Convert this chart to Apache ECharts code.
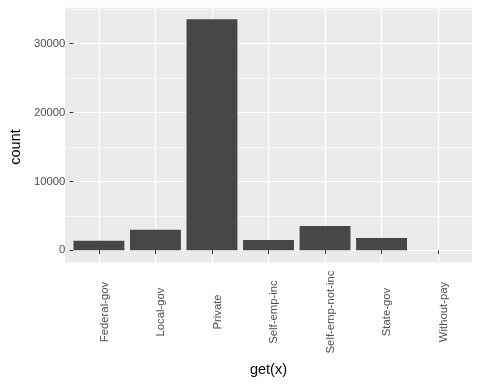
<!DOCTYPE html>
<html><head><meta charset="utf-8">
<script src="https://cdn.jsdelivr.net/npm/echarts@6/dist/echarts.min.js"></script>
<style>html,body{margin:0;padding:0;background:#fff}#c{width:480px;height:384px}</style>
</head><body><div id="c"></div>
<script>
var categories = ['Federal-gov','Local-gov','Private','Self-emp-inc','Self-emp-not-inc','State-gov','Without-pay'];
var counts = [1400, 3000, 33550, 1500, 3530, 1790, 21];
var yMajorTicks = [0, 10000, 20000, 30000];

var W = 480, H = 384;
var panelL = 65, panelR = 472, panelT = 7.3, panelB = 262.5;
var yMin = -1770, yMax = 35270;
var pxPer = (panelB - panelT) / (yMax - yMin);
var y0 = panelB + yMin * pxPer;          // pixel of value 0
var yTopMajor = y0 - 30000 * pxPer;     // pixel of value 30000
var unit = (panelR - panelL) / 7.2;
var font = 'Liberation Sans, Arial, Helvetica, sans-serif';
var tickFs = 11.3, titleFs = 14.5;

var chart = echarts.init(document.getElementById('c'), null, {renderer:'canvas'});
chart.setOption({
  animation: false,
  backgroundColor: '#ffffff',
  graphic: [{
    type: 'rect', z: -10, silent: true,
    shape: {x: panelL, y: panelT, width: panelR - panelL, height: panelB - panelT},
    style: {fill: '#EBEBEB'}
  }],
  grid: [
    {left: panelL + 0.1 * unit, right: W - panelR + 0.1 * unit, top: panelT, bottom: H - panelB},
    {left: panelL, right: W - panelR, top: panelT, bottom: H - y0},
    {left: panelL, right: W - panelR, top: yTopMajor, bottom: H - y0}
  ],
  xAxis: [
    {type: 'category', gridIndex: 0, data: categories,
     name: 'get(x)', nameLocation: 'middle', nameGap: 100,
     nameTextStyle: {color: '#000', fontSize: titleFs, fontFamily: font},
     axisLine: {show: false},
     axisTick: {show: true, alignWithLabel: true, length: 3.7, lineStyle: {color: '#333', width: 1}},
     axisLabel: {rotate: 90, color: '#4d4d4d', fontSize: tickFs, fontFamily: font,
       margin: 49.5, interval: 0, align: 'center', verticalAlign: 'top'},
     splitLine: {show: true, alignWithLabel: true, lineStyle: {color: '#fff', width: 1.2}},
     z: 1},
    {type: 'value', gridIndex: 1, min: 0, max: 1, show: false},
    {type: 'value', gridIndex: 2, min: 0, max: 1, show: false}
  ],
  yAxis: [
    {type: 'value', gridIndex: 0, min: yMin, max: yMax, show: false, splitLine: {show: false}},
    {type: 'value', gridIndex: 1, min: 0, max: yMax, interval: 5000,
     axisLine: {show: false}, axisTick: {show: false}, axisLabel: {show: false},
     splitLine: {show: true, lineStyle: {color: '#fff', width: 0.6}}},
    {type: 'value', gridIndex: 2, min: 0, max: 30000, interval: 10000,
     name: 'count', nameLocation: 'middle', nameGap: 46, nameRotate: 90,
     nameTextStyle: {color: '#000', fontSize: titleFs, fontFamily: font},
     axisLine: {show: false},
     axisTick: {show: true, length: 3.7, lineStyle: {color: '#333', width: 1}},
     axisLabel: {color: '#4d4d4d', fontSize: tickFs, fontFamily: font, margin: 8,
       formatter: function(v){ return yMajorTicks.indexOf(v) >= 0 ? String(v) : ''; }},
     splitLine: {show: true, lineStyle: {color: '#fff', width: 1.2}}}
  ],
  series: [{
    type: 'bar', xAxisIndex: 0, yAxisIndex: 0, data: counts,
    barWidth: '90%', itemStyle: {color: '#474747'}, z: 3
  }]
});
</script></body></html>
